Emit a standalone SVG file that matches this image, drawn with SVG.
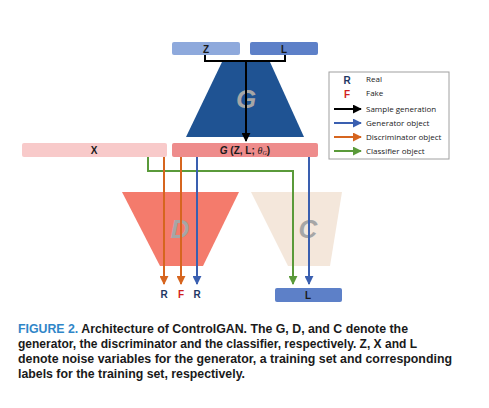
<svg xmlns="http://www.w3.org/2000/svg" width="489" height="408" viewBox="0 0 489 408">
<defs>
<marker id="ab" viewBox="0 0 10 10" refX="9" refY="5" markerWidth="4.5" markerHeight="4.5" orient="auto" markerUnits="strokeWidth"><path d="M0,0 L10,5 L0,10 z" fill="#000"/></marker>
<marker id="abl" viewBox="0 0 10 10" refX="9" refY="5" markerWidth="4.5" markerHeight="4.5" orient="auto" markerUnits="strokeWidth"><path d="M0,0 L10,5 L0,10 z" fill="#3a5fb0"/></marker>
<marker id="aor" viewBox="0 0 10 10" refX="9" refY="5" markerWidth="4.5" markerHeight="4.5" orient="auto" markerUnits="strokeWidth"><path d="M0,0 L10,5 L0,10 z" fill="#d6651f"/></marker>
<marker id="agr" viewBox="0 0 10 10" refX="9" refY="5" markerWidth="4.5" markerHeight="4.5" orient="auto" markerUnits="strokeWidth"><path d="M0,0 L10,5 L0,10 z" fill="#5a9a3a"/></marker>
</defs>
<style>
.t{font-family:"Liberation Sans",sans-serif;font-weight:bold;font-size:10px;fill:#1a1a1a;text-anchor:middle}
.big{font-family:"Liberation Sans",sans-serif;font-weight:bold;font-style:italic;font-size:26px;fill:#a6a6a6;text-anchor:middle}
.lg{font-family:"Open Sans","Liberation Sans",sans-serif;font-size:8px;fill:#1a1a1a}
.cap{font-family:"Liberation Sans",sans-serif;font-weight:bold;font-size:12.5px;fill:#1a1a1a}
.bk{stroke:#000;stroke-width:2;fill:none}
.bl{stroke:#3a5fb0;stroke-width:2;fill:none}
.or{stroke:#d6651f;stroke-width:2;fill:none}
.gr{stroke:#5a9a3a;stroke-width:2;fill:none}
</style>
<rect width="489" height="408" fill="#fff"/>
<g id="node-Z"><rect x="172" y="42" width="68" height="13" rx="2" fill="#8ea9dc"/><text class="t" x="206" y="52.5">Z</text></g>
<g id="node-L"><rect x="250" y="42" width="68" height="13" rx="2" fill="#5d80c8"/><text class="t" x="284" y="52.5">L</text></g>
<g id="node-G"><polygon points="222,62 270,62 304,137 186,137" fill="#1f5393"/><text class="big" x="246" y="108">G</text></g>
<g id="node-X"><rect x="22" y="143" width="145" height="14" rx="2" fill="#f8caca"/><text class="t" x="94" y="153.5">X</text></g>
<g id="node-GZL"><rect x="172" y="143" width="146" height="14" rx="2" fill="#ee8c8c"/><text class="t" x="245" y="153.5"><tspan font-style="italic">G</tspan> (Z, L; <tspan font-family="Liberation Serif,serif" font-style="italic" font-weight="normal">θ</tspan><tspan font-family="Liberation Serif,serif" font-style="italic" font-weight="normal" font-size="6" dy="1.5">G</tspan><tspan dy="-1.5">)</tspan></text></g>
<g id="node-D"><polygon points="122,192 239,192 203,266 160,266" fill="#f47b6c"/><text class="big" x="180" y="238">D</text></g>
<g id="node-C"><polygon points="251,192 342,192 330,266 288,266" fill="#f4e7db"/><text class="big" x="308" y="238">C</text></g>
<g id="node-Lout"><rect x="275" y="288" width="67" height="14" rx="2" fill="#5d80c8"/><text class="t" x="308" y="298.5">L</text></g>
<g id="outputs">
<text class="t" x="164" y="298" style="fill:#1f3864">R</text>
<text class="t" x="181" y="298" style="fill:#d11f1f">F</text>
<text class="t" x="197" y="298" style="fill:#1f3864">R</text>
</g>
<g id="connectors">
<path class="bk" d="M205,55 V61 H285 V55"/>
<path class="bk" d="M246,61 V141" marker-end="url(#ab)"/>
<path class="gr" d="M148,157 V171 H293 V284" marker-end="url(#agr)"/>
<path class="or" d="M164,157 V284" marker-end="url(#aor)"/>
<path class="or" d="M181,157 V284" marker-end="url(#aor)"/>
<path class="bl" d="M197,157 V284" marker-end="url(#abl)"/>
<path class="bl" d="M309,157 V284" marker-end="url(#abl)"/>
</g>
<g id="legend">
<rect x="329" y="72" width="120" height="87" fill="#fff" stroke="#a0a0a0" stroke-width="1"/>
<text class="t" x="347" y="84" style="fill:#1f3864;font-size:10px">R</text>
<text class="lg" x="366" y="82">Real</text>
<text class="t" x="347" y="98" style="fill:#d11f1f;font-size:10px">F</text>
<text class="lg" x="366" y="96">Fake</text>
<path class="bk" d="M334,109 H361" marker-end="url(#ab)"/>
<text class="lg" x="366" y="112">Sample generation</text>
<path class="bl" d="M334,123 H361" marker-end="url(#abl)"/>
<text class="lg" x="366" y="126">Generator object</text>
<path class="or" d="M334,137 H361" marker-end="url(#aor)"/>
<text class="lg" x="366" y="140">Discriminator object</text>
<path class="gr" d="M334,151 H361" marker-end="url(#agr)"/>
<text class="lg" x="366" y="154">Classifier object</text>
</g>
<g id="caption">
<text class="cap" x="18" y="333" textLength="390" lengthAdjust="spacingAndGlyphs"><tspan fill="#2f86c8">FIGURE 2.</tspan>  Architecture of ControlGAN. The G, D, and C denote the</text>
<text class="cap" x="18" y="348" textLength="399" lengthAdjust="spacingAndGlyphs">generator, the discriminator and the classifier, respectively. Z, X and L</text>
<text class="cap" x="18" y="363" textLength="434" lengthAdjust="spacingAndGlyphs">denote noise variables for the generator, a training set and corresponding</text>
<text class="cap" x="18" y="378" textLength="227" lengthAdjust="spacingAndGlyphs">labels for the training set, respectively.</text>
</g>
</svg>
